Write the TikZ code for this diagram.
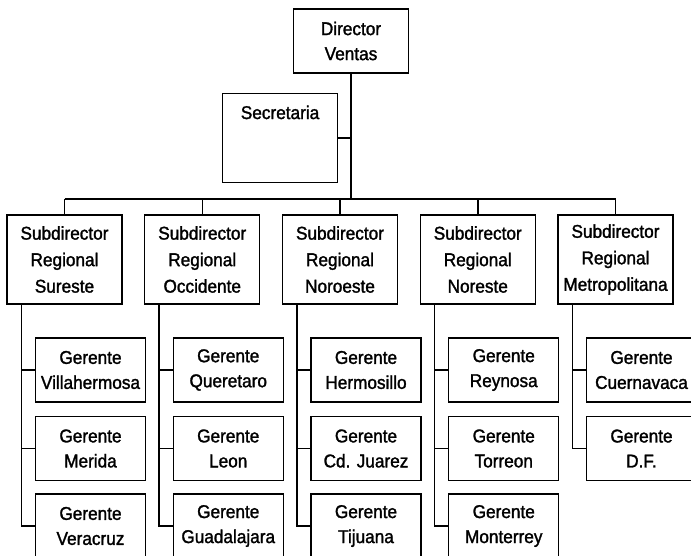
\documentclass[tikz,border=0pt]{standalone}
\usepackage{fontspec}
\setmainfont[FakeStretch=0.93,FakeBold=1.5]{Liberation Sans}
\begin{document}
\begin{tikzpicture}[x=1pt,y=-1pt,
  box/.style={draw, line width=1.1pt, align=center, inner sep=0pt,
              font=\fontsize{18.5}{25}\selectfont},
  topbox/.style={box, minimum width=115pt, minimum height=64pt},
  subbox/.style={box, minimum width=115pt, minimum height=89pt,
                 font=\fontsize{18.5}{26.5}\selectfont},
  gerbox/.style={box, minimum width=110pt, minimum height=64pt},
  conn/.style={line width=1.5pt}]
\useasboundingbox (0,0) rectangle (691,556);
\clip (0,0) rectangle (691,556);
\fill[white] (0,0) rectangle (691,556);

% top of the chart
\node[topbox] (dir) at (351,41) {Director\\Ventas};
\node[box, anchor=north west, text width=115pt, text height=25.5pt, text depth=63.5pt]
  (sec) at (222,93) {Secretaria};

% regional subdirectors
\node[subbox] (s1) at (64.5,259.5)   {Subdirector\\Regional\\Sureste};
\node[subbox] (s2) at (202.25,259.5) {Subdirector\\Regional\\Occidente};
\node[subbox] (s3) at (340,259.5)    {Subdirector\\Regional\\Noroeste};
\node[subbox] (s4) at (477.75,259.5) {Subdirector\\Regional\\Noreste};
\node[subbox] (s5) at (615.5,259.5)  {Subdirector\\Regional\\Metropolitana};

% managers, one column per region
\node[gerbox] (g11) at (90.5,370)  {Gerente\\Villahermosa};
\node[gerbox] (g12) at (90.5,448.5) {Gerente\\Merida};
\node[gerbox] (g13) at (90.5,526)  {Gerente\\Veracruz};

\node[gerbox] (g21) at (228.25,370)  {Gerente\\Queretaro};
\node[gerbox] (g22) at (228.25,448.5) {Gerente\\Leon};
\node[gerbox] (g23) at (228.25,526)  {Gerente\\Guadalajara};

\node[gerbox] (g31) at (366,370)  {Gerente\\Hermosillo};
\node[gerbox] (g32) at (366,448.5) {Gerente\\Cd. Juarez};
\node[gerbox] (g33) at (366,526)  {Gerente\\Tijuana};

\node[gerbox] (g41) at (503.75,370)  {Gerente\\Reynosa};
\node[gerbox] (g42) at (503.75,448.5) {Gerente\\Torreon};
\node[gerbox] (g43) at (503.75,526)  {Gerente\\Monterrey};

\node[gerbox] (g51) at (641.5,370)  {Gerente\\Cuernavaca};
\node[gerbox] (g52) at (641.5,448.5) {Gerente\\D.F.};

% director trunk, secretary branch and the horizontal bus
\coordinate (busmid) at (351,199);
\draw[conn] (dir.south) -- (busmid);
\draw[conn] (sec.east) -- (sec.east -| dir.south);
\draw[conn] (s1.north |- busmid) -- (s5.north |- busmid);
\foreach \s in {s1,s2,s3,s4,s5}
  \draw[conn] (\s.north) -- (\s.north |- busmid);

% spines from each subdirector to its managers
\coordinate (sp1) at ([xshift=15pt]s1.south west);
\coordinate (sp2) at ([xshift=15pt]s2.south west);
\coordinate (sp3) at ([xshift=15pt]s3.south west);
\coordinate (sp4) at ([xshift=15pt]s4.south west);
\coordinate (sp5) at ([xshift=15pt]s5.south west);
\foreach \c in {1,2,3,4}
  \foreach \r in {1,2,3}
    \draw[conn] (sp\c) |- (g\c\r.west);
\foreach \r in {1,2}
  \draw[conn] (sp5) |- (g5\r.west);
\end{tikzpicture}
\end{document}
